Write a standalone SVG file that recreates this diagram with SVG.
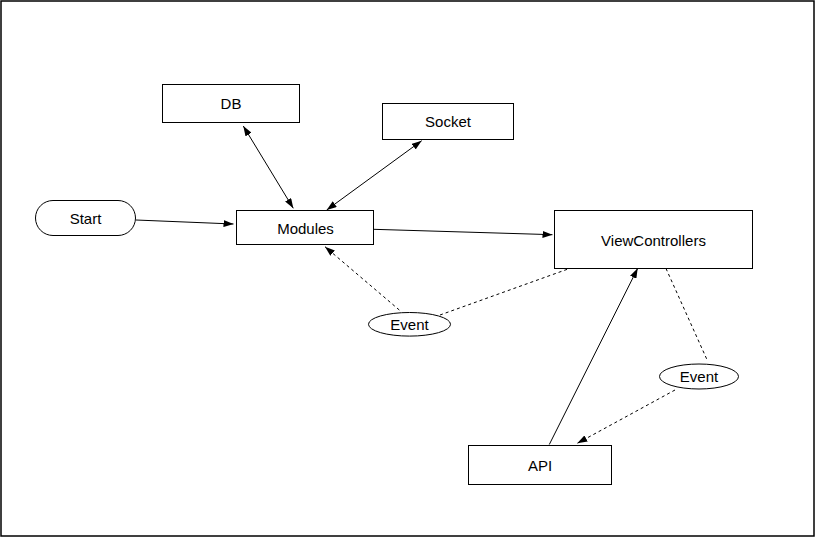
<svg xmlns="http://www.w3.org/2000/svg" width="815" height="537" viewBox="0 0 815 537">
  <style>
    .box { fill: #fff; stroke: #000; stroke-width: 1; }
    .lbl { font-family: "Liberation Sans", Arial, Helvetica, sans-serif; font-size: 15px; fill: #000; text-anchor: middle; }
    .edge { fill: none; stroke: #000; stroke-width: 1; }
    .dash { stroke-dasharray: 3 3; }
  </style>
  <defs>
    <marker id="arrow" viewBox="0 0 10 7" refX="10" refY="3.5" markerWidth="10" markerHeight="7" markerUnits="userSpaceOnUse" orient="auto-start-reverse">
      <path d="M0,0 L10,3.5 L0,7 z" fill="#000"/>
    </marker>
  </defs>

  <!-- frame -->
  <rect x="1" y="1" width="813" height="535" fill="#fff" stroke="#000" stroke-width="1.5"/>

  <!-- connectors -->
  <g id="connectors">
    <line class="edge" x1="243.3" y1="126" x2="293.3" y2="208.3" marker-start="url(#arrow)" marker-end="url(#arrow)"/>
    <line class="edge" x1="421.7" y1="140.7" x2="326.7" y2="210" marker-start="url(#arrow)" marker-end="url(#arrow)"/>
    <line class="edge" x1="136" y1="220" x2="233.5" y2="224" marker-end="url(#arrow)"/>
    <line class="edge" x1="373.5" y1="229.3" x2="552.5" y2="234.7" marker-end="url(#arrow)"/>
    <line class="edge dash" x1="399.3" y1="310" x2="325" y2="246.7" marker-end="url(#arrow)"/>
    <line class="edge dash" x1="440" y1="315" x2="571.7" y2="267.7"/>
    <line class="edge" x1="549.3" y1="444.5" x2="637.7" y2="268.3" marker-end="url(#arrow)"/>
    <line class="edge dash" x1="666" y1="268.5" x2="706.7" y2="359"/>
    <line class="edge dash" x1="675" y1="390" x2="577.3" y2="443.3" marker-end="url(#arrow)"/>
  </g>

  <g id="db">
    <rect class="box" x="162.5" y="84.5" width="137" height="38"/>
    <text class="lbl" x="231" y="109">DB</text>
  </g>
  <g id="socket">
    <rect class="box" x="382.5" y="103.5" width="131" height="36"/>
    <text class="lbl" x="448" y="127">Socket</text>
  </g>
  <g id="start">
    <rect class="box" x="35.5" y="200.5" width="100" height="35" rx="17.5" ry="17.5"/>
    <text class="lbl" x="85.5" y="224">Start</text>
  </g>
  <g id="modules">
    <rect class="box" x="236.5" y="210.5" width="137" height="34"/>
    <text class="lbl" x="305.5" y="234">Modules</text>
  </g>
  <g id="viewcontrollers">
    <rect class="box" x="554.5" y="210.5" width="198" height="58"/>
    <text class="lbl" x="653.5" y="246">ViewControllers</text>
  </g>
  <g id="event1">
    <ellipse class="box" cx="409.5" cy="324.3" rx="41" ry="11.8"/>
    <text class="lbl" x="409.5" y="330">Event</text>
  </g>
  <g id="event2">
    <ellipse class="box" cx="699" cy="376.5" rx="39.5" ry="12.5"/>
    <text class="lbl" x="699" y="382">Event</text>
  </g>
  <g id="api">
    <rect class="box" x="468.5" y="445.5" width="143" height="39"/>
    <text class="lbl" x="540" y="470.5">API</text>
  </g>
</svg>
